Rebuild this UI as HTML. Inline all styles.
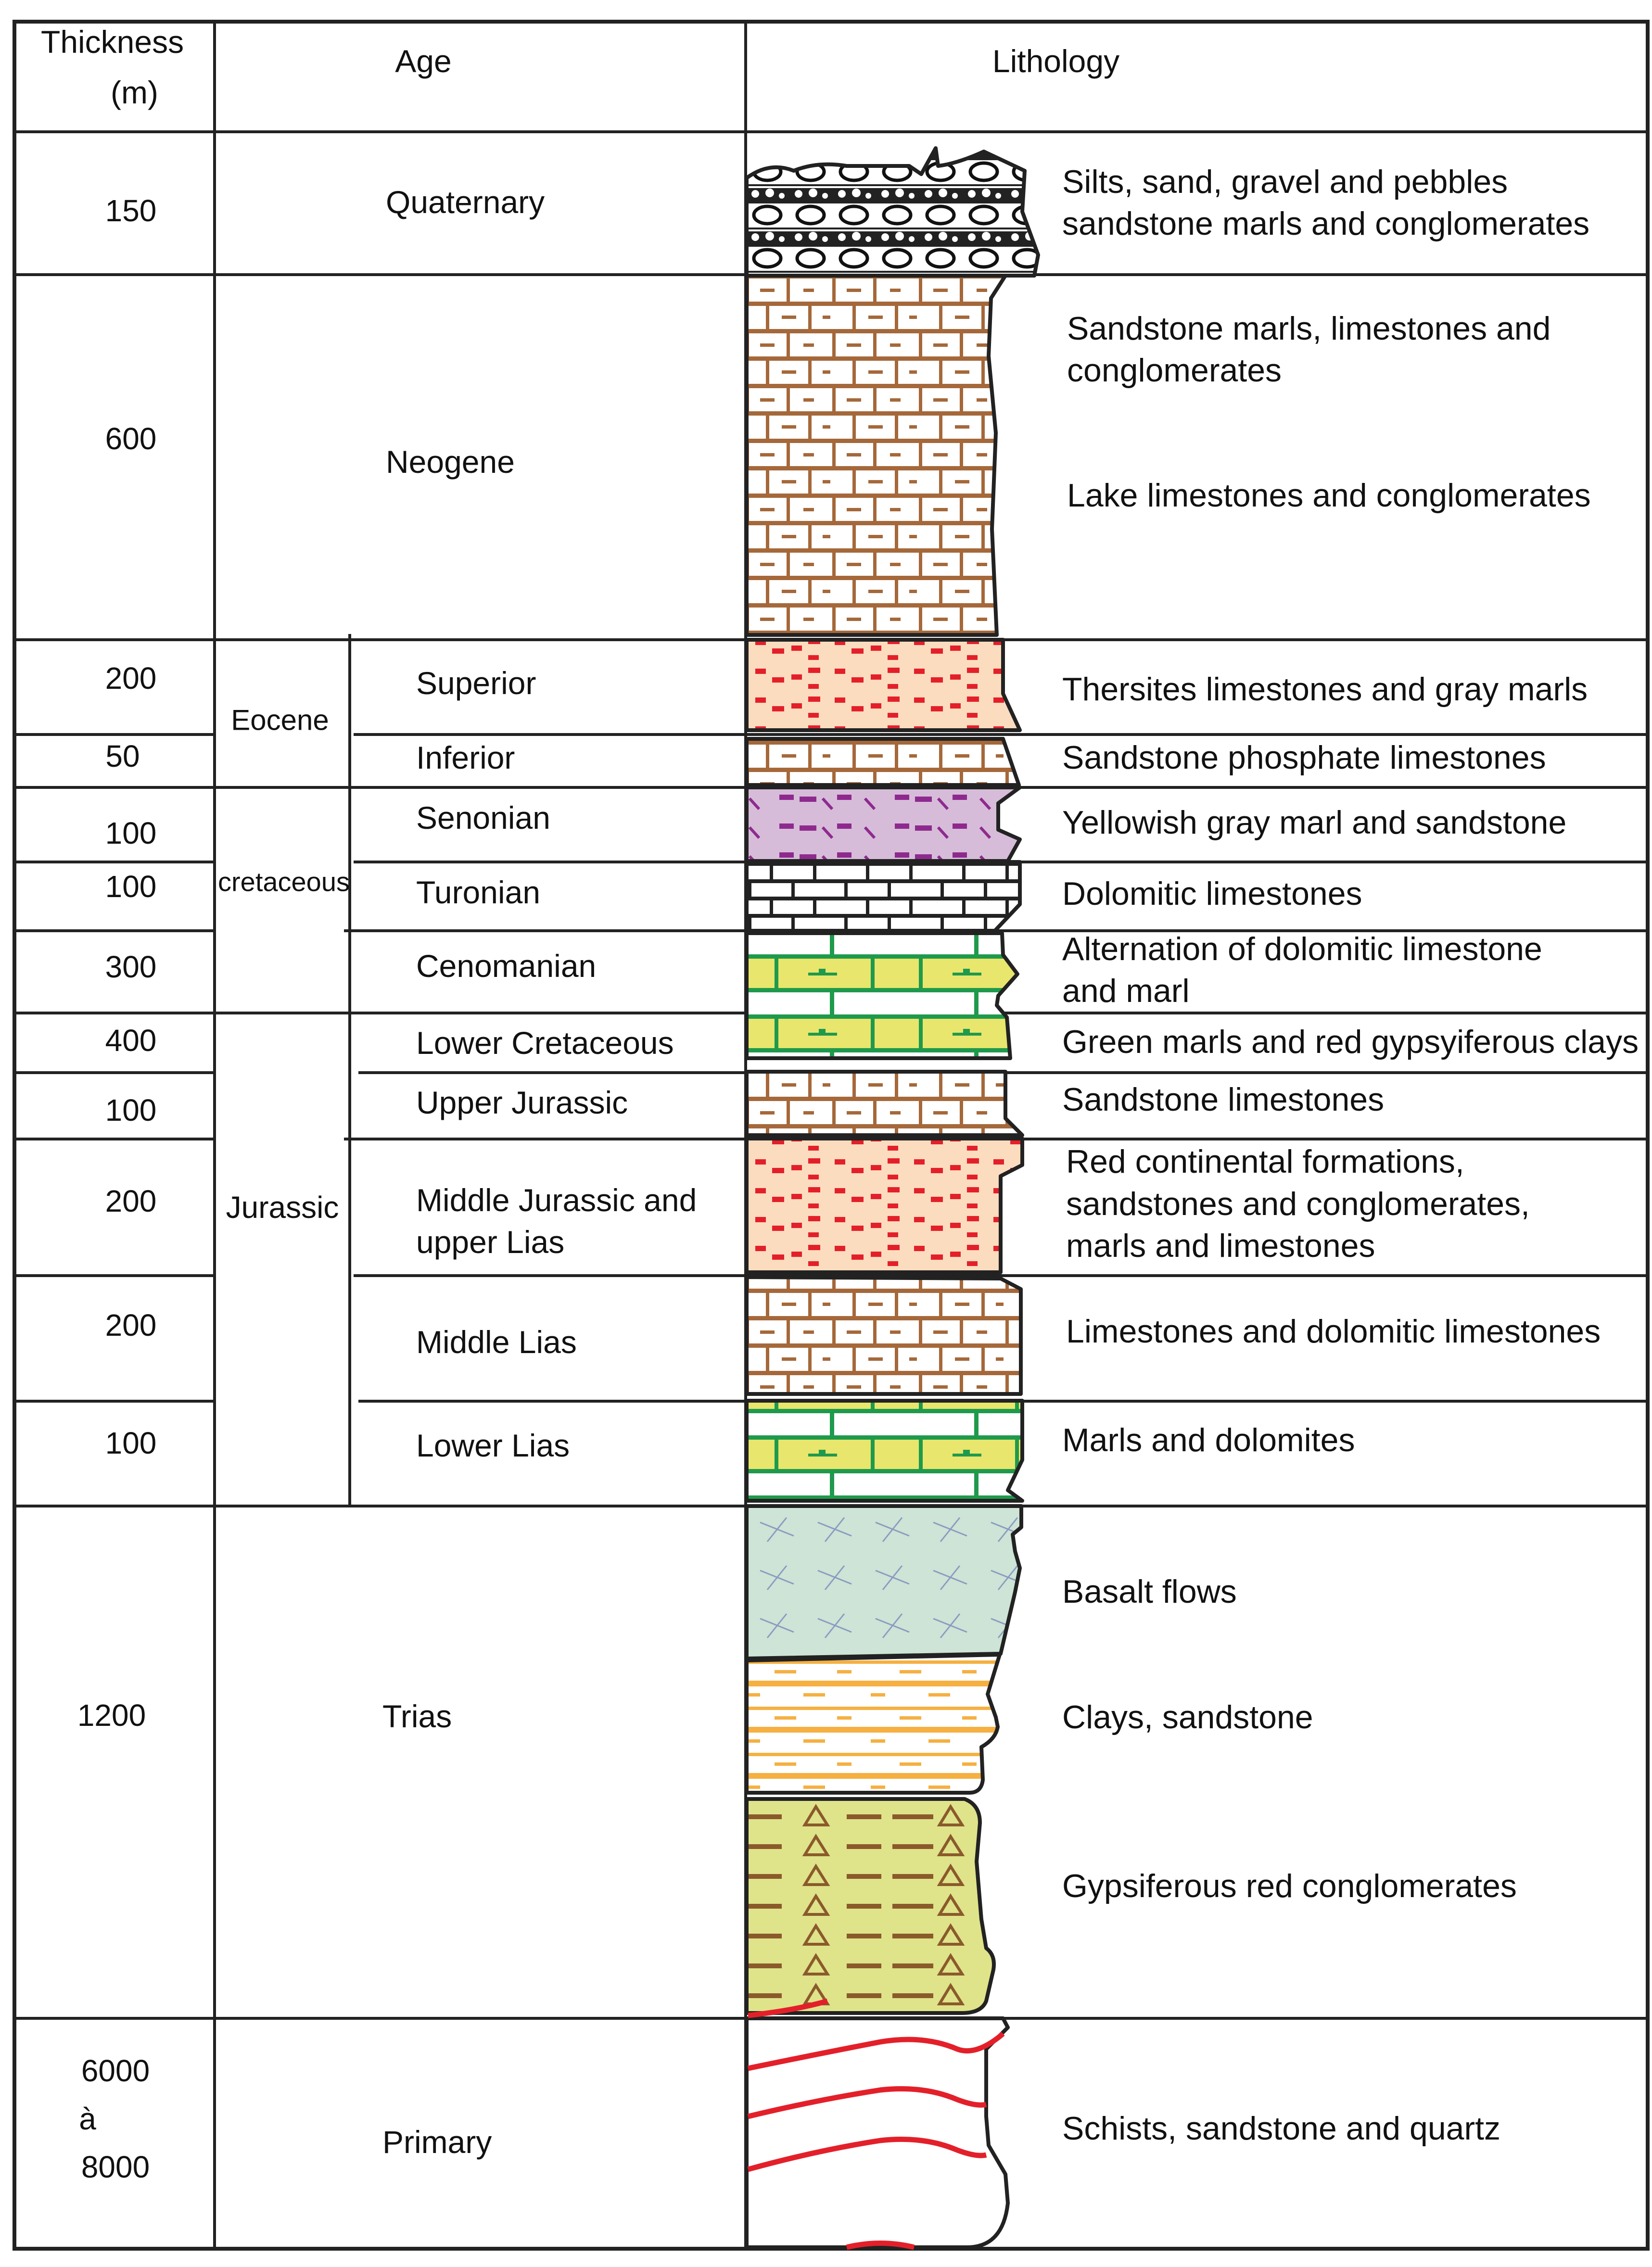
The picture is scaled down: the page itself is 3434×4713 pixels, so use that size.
<!DOCTYPE html>
<html><head><meta charset="utf-8"><style>
html,body{margin:0;padding:0;background:#fff}
svg{display:block}
text{font-family:"Liberation Sans",sans-serif;fill:#111}
</style></head><body>
<svg width="3434" height="4713" viewBox="0 0 3434 4713" xmlns="http://www.w3.org/2000/svg">
<defs>
<pattern id="brick" patternUnits="userSpaceOnUse" x="1550" y="0" width="180" height="114">
<rect width="180" height="114" fill="#fff"/>
<rect x="0" y="0" width="180" height="9" fill="#a5683a"/>
<rect x="0" y="57" width="180" height="9" fill="#a5683a"/>
<rect x="0" y="0" width="7" height="57" fill="#a5683a"/>
<rect x="85" y="0" width="7" height="57" fill="#a5683a"/>
<rect x="42" y="57" width="7" height="57" fill="#a5683a"/>
<rect x="130" y="57" width="7" height="57" fill="#a5683a"/>
<rect x="30" y="30" width="30" height="7" fill="#a5683a"/>
<rect x="120" y="30" width="22" height="7" fill="#a5683a"/>
<rect x="75" y="86" width="30" height="7" fill="#a5683a"/>
<rect x="160" y="86" width="16" height="7" fill="#a5683a"/>
</pattern>
<pattern id="peach" patternUnits="userSpaceOnUse" x="1550" y="0" width="165" height="60">
<rect width="165" height="60" fill="#fcdcbf"/>
<rect x="20" y="10" width="22" height="11" fill="#e3202a"/>
<rect x="55" y="28" width="25" height="11" fill="#e3202a"/>
<rect x="95" y="22" width="22" height="11" fill="#e3202a"/>
<rect x="130" y="8" width="25" height="11" fill="#e3202a"/>
<rect x="130" y="42" width="22" height="10" fill="#e3202a"/>
</pattern>
<pattern id="purple" patternUnits="userSpaceOnUse" x="1550" y="1640" width="240" height="60">
<rect width="240" height="60" fill="#d6bcd9"/>
<rect x="70" y="12" width="30" height="11" fill="#8e2a8e"/>
<rect x="112" y="16" width="35" height="11" fill="#8e2a8e"/>
<rect x="190" y="12" width="30" height="11" fill="#8e2a8e"/>
<line x1="8" y1="20" x2="28" y2="42" stroke="#8e2a8e" stroke-width="6"/>
<line x1="160" y1="20" x2="180" y2="42" stroke="#8e2a8e" stroke-width="6"/>
</pattern>
<pattern id="gbrick" patternUnits="userSpaceOnUse" x="1550" y="1792" width="200" height="72">
<rect width="200" height="72" fill="#fff"/>
<rect x="0" y="0" width="200" height="8" fill="#222"/>
<rect x="0" y="36" width="200" height="8" fill="#222"/>
<rect x="50" y="0" width="7" height="36" fill="#222"/>
<rect x="140" y="0" width="7" height="36" fill="#222"/>
<rect x="5" y="36" width="7" height="36" fill="#222"/>
<rect x="95" y="36" width="7" height="36" fill="#222"/>
</pattern>
<pattern id="green" patternUnits="userSpaceOnUse" x="1550" y="1938" width="300" height="125">
<rect width="300" height="125" fill="#fff"/>
<rect x="0" y="50" width="300" height="70" fill="#e8e66c"/>
<rect x="0" y="46" width="300" height="9" fill="#1f9a4c"/>
<rect x="0" y="116" width="300" height="9" fill="#1f9a4c"/>
<rect x="175" y="0" width="9" height="50" fill="#1f9a4c"/>
<rect x="60" y="50" width="8" height="70" fill="#1f9a4c"/>
<rect x="260" y="50" width="8" height="70" fill="#1f9a4c"/>
<rect x="130" y="84" width="60" height="6" fill="#1f9a4c"/>
<rect x="152" y="76" width="14" height="10" fill="#1f9a4c"/>
</pattern>
<pattern id="basalt" patternUnits="userSpaceOnUse" x="1550" y="3135" width="120" height="100">
<rect width="120" height="100" fill="#cde4d6"/>
<line x1="30" y1="30" x2="100" y2="58" stroke="#8a9cc0" stroke-width="3"/>
<line x1="85" y1="20" x2="45" y2="70" stroke="#8a9cc0" stroke-width="3"/>
</pattern>
<pattern id="clays" patternUnits="userSpaceOnUse" x="1550" y="3452" width="260" height="96">
<rect width="260" height="96" fill="#fff"/>
<rect x="0" y="0" width="260" height="7" fill="#f5b041"/>
<rect x="0" y="42" width="260" height="12" fill="#f5b041"/>
<rect x="60" y="20" width="45" height="7" fill="#f5b041"/>
<rect x="190" y="20" width="30" height="7" fill="#f5b041"/>
<rect x="0" y="68" width="30" height="7" fill="#f5b041"/>
<rect x="120" y="68" width="45" height="7" fill="#f5b041"/>
</pattern>
<pattern id="gyps" patternUnits="userSpaceOnUse" x="1555" y="3750" width="520" height="62">
<rect width="520" height="62" fill="#dfe38a"/>
<rect x="0" y="22" width="70" height="10" fill="#8b5a2b"/>
<rect x="205" y="22" width="72" height="10" fill="#8b5a2b"/>
<rect x="300" y="22" width="85" height="10" fill="#8b5a2b"/>
<polygon points="118,44 165,44 141,6" fill="none" stroke="#8b5a2b" stroke-width="6"/>
<polygon points="398,44 445,44 421,6" fill="none" stroke="#8b5a2b" stroke-width="6"/>
</pattern>
<pattern id="quat" patternUnits="userSpaceOnUse" x="1550" y="335" width="90" height="90">
<rect width="90" height="90" fill="#fff"/>
<ellipse cx="45" cy="22" rx="28" ry="18" fill="none" stroke="#111" stroke-width="7"/>
<rect x="0" y="48" width="90" height="40" fill="#222"/>
<circle cx="20" cy="68" r="8" fill="#fff"/><circle cx="50" cy="66" r="9" fill="#fff"/><circle cx="75" cy="72" r="6" fill="#fff"/>
<rect x="0" y="52" width="90" height="4" fill="#fff"/>
</pattern>
</defs>

<rect x="30" y="45" width="3395" height="4630" fill="none" stroke="#222" stroke-width="8"/>
<line x1="446" y1="45" x2="446" y2="4675" stroke="#222" stroke-width="6"/>
<line x1="1550" y1="45" x2="1550" y2="4675" stroke="#222" stroke-width="6"/>
<line x1="727" y1="1318" x2="727" y2="3131" stroke="#222" stroke-width="6"/>
<g stroke="#222" stroke-width="6">
<line x1="30" y1="274" x2="3425" y2="274"/>
<line x1="30" y1="571" x2="3425" y2="571"/>
<line x1="30" y1="1330" x2="3425" y2="1330"/>
<line x1="30" y1="1527" x2="446" y2="1527"/><line x1="735" y1="1527" x2="3425" y2="1527"/>
<line x1="30" y1="1637" x2="3425" y2="1637"/>
<line x1="30" y1="1792" x2="446" y2="1792"/><line x1="735" y1="1792" x2="3425" y2="1792"/>
<line x1="30" y1="1935" x2="446" y2="1935"/><line x1="715" y1="1935" x2="3425" y2="1935"/>
<line x1="30" y1="2106" x2="3425" y2="2106"/>
<line x1="30" y1="2230" x2="446" y2="2230"/><line x1="745" y1="2230" x2="3425" y2="2230"/>
<line x1="30" y1="2368" x2="446" y2="2368"/><line x1="715" y1="2368" x2="3425" y2="2368"/>
<line x1="30" y1="2652" x2="446" y2="2652"/><line x1="735" y1="2652" x2="3425" y2="2652"/>
<line x1="30" y1="2913" x2="446" y2="2913"/><line x1="745" y1="2913" x2="3425" y2="2913"/>
<line x1="30" y1="3131" x2="3425" y2="3131"/>
<line x1="30" y1="4196" x2="3425" y2="4196"/>
</g>

<g stroke="#222" stroke-width="8" stroke-linejoin="round">
<path d="M1552 370 Q1600 335 1650 355 Q1700 335 1760 345 L1890 345 L1915 362 L1945 308 L1950 345 Q1990 340 2045 315 L2130 355 L2125 440 L2158 530 L2150 573 L1552 573 Z" fill="url(#quat)"/>
<path d="M1552 573 L2090 573 L2060 620 L2055 740 L2070 900 L2062 1100 L2072 1320 L1552 1320 Z" fill="url(#brick)"/>
<path d="M1552 1330 L2085 1330 L2085 1442 L2120 1518 L1552 1518 Z" fill="url(#peach)"/>
<path d="M1552 1536 L2085 1536 L2118 1632 L1552 1632 Z" fill="url(#brick)"/>
<path d="M1552 1637 L2120 1637 L2075 1670 L2075 1725 L2120 1745 L2095 1790 L1552 1790 Z" fill="url(#purple)"/>
<path d="M1552 1792 L2120 1792 L2120 1880 L2068 1935 L1552 1935 Z" fill="url(#gbrick)"/>
<path d="M1552 1940 L2083 1940 L2085 1985 L2115 2025 L2075 2070 L2072 2090 L2093 2115 L2100 2200 L1552 2200 Z" fill="url(#green)"/>
<path d="M1552 2228 L2090 2228 L2090 2325 L2125 2360 L1552 2360 Z" fill="url(#brick)"/>
<path d="M1552 2367 L2125 2367 L2125 2422 L2080 2445 L2080 2645 L1552 2645 Z" fill="url(#peach)"/>
<path d="M1552 2655 L2080 2658 L2122 2680 L2122 2898 L1552 2898 Z" fill="url(#brick)"/>
<path d="M1552 2912 L2125 2912 L2125 3035 L2095 3098 L2125 3120 L1552 3120 Z" fill="url(#green)"/>
<path d="M1552 3131 L2123 3131 L2123 3175 L2105 3190 L2110 3225 L2120 3260 L2110 3310 L2080 3438 L1552 3448 Z" fill="url(#basalt)"/>
<path d="M1552 3452 L2078 3440 L2053 3522 L2070 3570 L2074 3590 Q2070 3615 2040 3632 L2043 3700 Q2040 3727 2015 3727 L1552 3727 Z" fill="url(#clays)"/>
<path d="M1552 3740 L2005 3740 Q2037 3752 2037 3790 L2030 3870 L2040 3990 L2050 4050 Q2070 4065 2065 4095 L2050 4160 Q2040 4185 2000 4185 L1552 4185 Z" fill="url(#gyps)"/>
<path d="M1552 4196 L2085 4196 L2095 4215 L2050 4260 L2050 4320 L2050 4400 L2055 4460 L2090 4520 L2095 4580 Q2085 4672 2010 4672 L1552 4672 Z" fill="#fff"/>
</g>
<g fill="none" stroke="#e3202a" stroke-width="11">
<path d="M1555 4190 Q1650 4180 1720 4160"/>
<path d="M1555 4300 Q1700 4270 1830 4245 Q1920 4230 1990 4260 Q2030 4275 2085 4228"/>
<path d="M1555 4400 Q1700 4365 1830 4345 Q1920 4335 1990 4365 Q2030 4380 2050 4375"/>
<path d="M1555 4510 Q1700 4470 1830 4450 Q1920 4440 1990 4470 Q2030 4485 2050 4480"/>
<path d="M1760 4672 Q1830 4655 1900 4672"/>
</g>

<text x="85" y="110" font-size="66">Thickness</text>
<text x="230" y="215" font-size="66">(m)</text>
<text x="880" y="150" font-size="66" text-anchor="middle">Age</text>
<text x="2195" y="150" font-size="66" text-anchor="middle">Lithology</text>

<g font-size="64" text-anchor="middle" dominant-baseline="central">
<text x="272" y="438">150</text>
<text x="272" y="912">600</text>
<text x="272" y="1410">200</text>
<text x="255" y="1572">50</text>
<text x="272" y="1732">100</text>
<text x="272" y="1843">100</text>
<text x="272" y="2010">300</text>
<text x="272" y="2163">400</text>
<text x="272" y="2308">100</text>
<text x="272" y="2497">200</text>
<text x="272" y="2755">200</text>
<text x="272" y="3000">100</text>
<text x="232" y="3566">1200</text>
<text x="240" y="4305">6000</text>
<text x="182" y="4405">à</text>
<text x="240" y="4505">8000</text>
<text x="582" y="1497" font-size="60">Eocene</text>
<text x="590" y="1833" font-size="56">cretaceous</text>
<text x="587" y="2510">Jurassic</text>
</g>

<g font-size="66" dominant-baseline="central">
<text x="802" y="420">Quaternary</text>
<text x="802" y="960">Neogene</text>
<text x="865" y="1420">Superior</text>
<text x="865" y="1575">Inferior</text>
<text x="865" y="1700">Senonian</text>
<text x="865" y="1855">Turonian</text>
<text x="865" y="2008">Cenomanian</text>
<text x="865" y="2168">Lower Cretaceous</text>
<text x="865" y="2292">Upper Jurassic</text>
<text x="865" y="2495">Middle Jurassic and</text>
<text x="865" y="2582">upper Lias</text>
<text x="865" y="2790">Middle  Lias</text>
<text x="865" y="3005">Lower Lias</text>
<text x="795" y="3568">Trias</text>
<text x="795" y="4453">Primary</text>
</g>

<g font-size="68" dominant-baseline="central">
<text x="2208" y="378">Silts, sand, gravel and pebbles</text>
<text x="2208" y="465">sandstone marls and conglomerates</text>
<text x="2218" y="683">Sandstone marls, limestones and</text>
<text x="2218" y="770">conglomerates</text>
<text x="2218" y="1030">Lake limestones and conglomerates</text>
<text x="2208" y="1433">Thersites limestones and gray marls</text>
<text x="2208" y="1575">Sandstone phosphate limestones</text>
<text x="2208" y="1710">Yellowish gray marl and sandstone</text>
<text x="2208" y="1858">Dolomitic limestones</text>
<text x="2208" y="1973">Alternation of dolomitic limestone</text>
<text x="2208" y="2060">and marl</text>
<text x="2208" y="2166">Green marls and red gypsyiferous clays</text>
<text x="2208" y="2286">Sandstone limestones</text>
<text x="2216" y="2415">Red continental formations,</text>
<text x="2216" y="2503">sandstones and conglomerates,</text>
<text x="2216" y="2590">marls and limestones</text>
<text x="2216" y="2768">Limestones and dolomitic limestones</text>
<text x="2208" y="2994">Marls and dolomites</text>
<text x="2208" y="3309">Basalt flows</text>
<text x="2208" y="3570">Clays, sandstone</text>
<text x="2208" y="3921">Gypsiferous red conglomerates</text>
<text x="2208" y="4425">Schists, sandstone and quartz</text>
</g>
</svg>
</body></html>
